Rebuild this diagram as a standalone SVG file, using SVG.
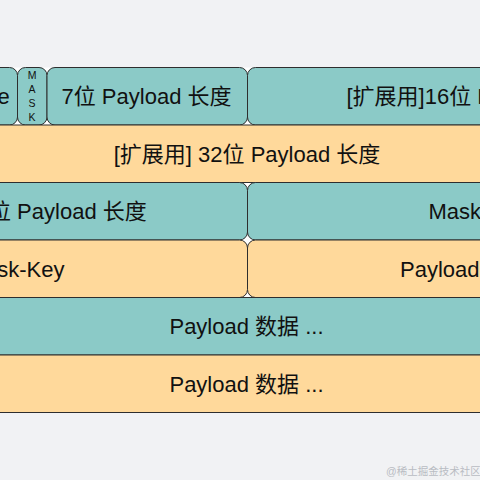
<svg xmlns="http://www.w3.org/2000/svg" width="480" height="480" viewBox="0 0 480 480">
  <style>
    .t { fill: #8bcac7; stroke: #2e2e2e; stroke-width: 1; }
    .o { fill: #ffd99b; stroke: #2e2e2e; stroke-width: 1; }
    .lbl { font-family: "Liberation Sans", "Noto Sans CJK SC", sans-serif; font-size: 22px; fill: #111; }
    .c { text-anchor: middle; }
    .m { font-family: "Liberation Sans", sans-serif; font-size: 10.5px; fill: #111; text-anchor: middle; }
    .wm { font-family: "Liberation Sans", "Noto Sans CJK SC", sans-serif; font-size: 10.5px; fill: #b9bcc3; }
  </style>
  <rect x="0" y="0" width="480" height="480" fill="#f1f2f4"/>
  <rect x="0" y="67.5" width="480" height="345" fill="#ffffff"/>

  <g id="row1-opcode">
    <rect class="t" x="-100" y="67.5" width="117.5" height="57.5" rx="8"/>
    <text class="lbl" x="-2.5" y="104">e</text>
  </g>
  <g id="row1-mask">
    <rect class="t" x="17.5" y="67.5" width="29.5" height="57.5" rx="8"/>
    <text class="m" x="32" y="79">M</text>
    <text class="m" x="32" y="93">A</text>
    <text class="m" x="32" y="107">S</text>
    <text class="m" x="32" y="121">K</text>
  </g>
  <g id="row1-len7">
    <rect class="t" x="47" y="67.5" width="200.5" height="57.5" rx="8"/>
    <text class="lbl c" x="146.5" y="104">7位 Payload 长度</text>
  </g>
  <g id="row1-len16">
    <rect class="t" x="247.5" y="67.5" width="400" height="57.5" rx="8"/>
    <text class="lbl" x="346.5" y="104">[扩展用]16位 Payload 长度</text>
  </g>

  <g id="row2-len32">
    <rect class="o" x="-100" y="125" width="700" height="57.5" rx="8"/>
    <text class="lbl c" x="247" y="161.5">[扩展用] 32位 Payload 长度</text>
  </g>

  <g id="row3-len64">
    <rect class="t" x="-100" y="182.5" width="347.5" height="57.5" rx="8"/>
    <text class="lbl" x="-11" y="219">位 Payload 长度</text>
  </g>
  <g id="row3-maskkey">
    <rect class="t" x="247.5" y="182.5" width="400" height="57.5" rx="8"/>
    <text class="lbl" x="428.5" y="219">Mask-Key</text>
  </g>

  <g id="row4-maskkey">
    <rect class="o" x="-100" y="240" width="347.5" height="57.5" rx="8"/>
    <text class="lbl" x="64.5" y="276.5" text-anchor="end">Mask-Key</text>
  </g>
  <g id="row4-payload">
    <rect class="o" x="247.5" y="240" width="400" height="57.5" rx="8"/>
    <text class="lbl" x="400" y="276.5">Payload 数据</text>
  </g>

  <g id="row5-payload">
    <rect class="t" x="-100" y="297.5" width="700" height="57.5" rx="8"/>
    <text class="lbl c" x="246.5" y="334">Payload 数据 ...</text>
  </g>
  <g id="row6-payload">
    <rect class="o" x="-100" y="355" width="700" height="57.5" rx="8"/>
    <text class="lbl c" x="246.5" y="391.5">Payload 数据 ...</text>
  </g>

  <g id="connectors"></g>

  <text class="wm" x="386" y="475">@稀土掘金技术社区</text>
</svg>
